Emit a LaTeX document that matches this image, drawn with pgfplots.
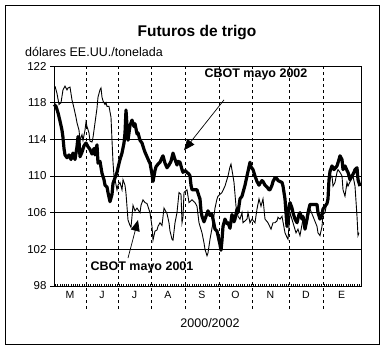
\documentclass[border=0pt]{standalone}
\usepackage{fontspec}
\setmainfont{Liberation Sans}
\usepackage{pgfplots}
\pgfplotsset{compat=1.18}
\usetikzlibrary{arrows.meta}
\begin{document}
\begin{tikzpicture}
\useasboundingbox (0pt,0pt) rectangle (386pt,354pt);
\draw[line width=1pt] (5.5pt,9.5pt) rectangle (379.5pt,348.5pt);
\begin{axis}[
  at={(54pt,68pt)}, anchor=south west, scale only axis,
  width=307pt, height=220pt,
  xmin=54, xmax=361, ymin=98, ymax=122,
  axis line style={line width=1pt},
  tick pos=left, tick align=outside,
  major tick length=4pt, minor tick length=2.2pt,
  ytick={98,102,...,122},
  ymajorgrids, major grid style={black, line width=0.9pt},
  xtick={70,102,134.5,168,202,235.5,270.5,306,341.5},
  xticklabels={M,J,J,A,S,O,N,D,E},
  major x tick style={draw=none},
  minor xtick={55.5,57.7,...,360},
  minor tick style={yshift=2.2pt, black, line width=0.6pt},
  major tick style={black, line width=0.9pt},
  yticklabel style={font=\fontsize{11.5}{13}\selectfont},
  xticklabel style={font=\fontsize{10.5}{12}\selectfont, yshift=2pt},
  /pgf/number format/assume math mode=true,
  clip=false,
]
\pgfplotsinvokeforeach{86,118,151,185,219,252,289,323}{
  \draw[black, line width=0.8pt, dash pattern=on 3pt off 3pt] (axis cs:#1,122) -- ([yshift=-25pt]axis cs:#1,98);
}
% CBOT mayo 2001 (thin)
\addplot[black, line width=0.9pt] table {
x y
55 119.8
57 119.0
59 117.8
61 118.0
63 119.4
65 119.8
67 119.4
68 119.6
70 119.7
72 118.3
74 117.4
76 116.4
77 115.8
79 115.0
80 113.9
82 114.5
83 113.9
85 115.0
86 115.9
87 115.4
89 114.7
90 113.8
92 113.7
93 114.2
95 115.8
97 117.4
98 118.6
100 119.4
101 119.6
102 118.6
103 118.2
105 117.8
106 118.0
107 117.6
109 117.6
111 116.4
112 113.9
113 111.5
114 110.0
115 109.6
117 108.5
118 109.0
120 109.3
122 108.5
123 109.6
125 109.0
126 108.1
128 105.2
130 104.6
131 104.4
133 106.8
135 106.2
137 106.5
140 106.0
141 106.8
143 107.4
145 107.1
147 107.0
150 106.0
152 104.5
153 103.0
155 104.0
157 104.1
158 104.5
160 104.9
162 104.6
164 106.5
165 106.3
167 105.9
169 104.9
170 104.0
172 103.1
173 103.0
175 104.9
177 106.0
179 108.2
181 108.0
182 104.9
183 105.5
184 108.2
187 108.5
189 107.1
192 107.4
195 107.1
197 106.7
199 104.9
202 103.8
204 102.7
205 102.0
207 101.3
208 101.6
210 103.1
213 104.9
215 106.5
217 107.5
218 107.8
220 108.0
222 108.2
225 108.9
228 110.0
230 111.0
231 111.3
233 110.0
234 109.3
236 106.7
238 105.6
240 105.3
242 106.0
243 104.9
245 105.1
247 105.3
248 106.0
250 104.9
252 105.3
255 104.9
257 106.4
259 107.5
261 106.7
263 107.5
265 105.3
268 104.9
271 104.2
273 104.9
275 104.9
277 105.1
278 105.5
280 105.3
282 105.6
285 103.8
287 103.3
288 103.1
290 106.0
293 104.9
296 103.8
298 104.2
300 103.5
303 105.3
305 104.9
307 104.9
310 106.4
313 105.6
317 104.5
318 103.8
320 103.5
322 104.5
323 105.8
325 106.0
328 107.8
329 109.3
331 110.0
332 110.0
333 108.9
335 109.3
337 110.4
338 110.7
340 110.4
342 110.0
343 108.5
345 107.8
347 109.3
348 108.9
351 109.6
353 110.0
355 108.9
357 105.6
358 103.5
359 103.8
};
% CBOT mayo 2002 (thick)
\addplot[black, line width=3.2pt, line join=round] table {
x y
54 117.8
56 117.6
58 116.9
60 116.0
62 115.0
63 114.2
64 113.0
65 112.3
67 112.0
69 112.3
71 111.8
73 112.5
75 111.8
77 113.2
78 114.3
79 113.8
80 112.1
82 112.6
84 113.3
86 113.6
88 113.2
90 112.9
92 112.4
94 113.0
95 112.3
97 113.4
98 111.4
100 111.6
102 110.3
104 109.6
105 109.0
107 108.8
108 108.2
110 107.2
112 108.0
113 109.2
115 109.8
117 110.4
118 110.9
120 111.8
122 112.5
124 113.6
125 114.7
126 117.2
127 115.5
128 113.9
130 115.5
132 116.1
134 115.4
135 115.7
137 114.6
138 114.7
140 113.9
142 113.6
144 112.9
145 112.6
147 112.1
149 111.6
150 111.4
152 110.2
153 109.4
155 110.6
156 111.0
158 111.3
160 111.5
162 112.0
163 112.2
165 111.4
167 110.9
169 111.2
171 111.6
173 112.5
175 111.8
177 111.2
178 111.6
180 111.5
182 110.7
183 110.4
185 110.6
187 110.4
189 110.2
190 110.0
191 109.0
192 108.5
195 108.5
197 108.5
199 107.8
200 107.5
201 106.2
202 105.6
204 105.0
205 105.3
207 105.9
208 106.2
210 105.7
212 105.8
213 105.3
215 104.2
217 104.0
218 103.5
220 102.5
221 101.9
222 103.0
223 104.5
225 105.3
227 104.8
228 104.9
230 104.3
232 105.8
234 105.0
235 105.3
237 106.4
238 106.0
240 107.5
242 107.8
243 108.2
245 109.0
247 110.0
249 111.0
250 111.5
251 111.0
253 110.7
255 110.0
257 109.4
259 109.0
260 109.2
262 109.5
263 109.4
265 109.0
267 108.8
269 108.5
270 108.5
272 109.0
273 109.4
275 109.8
277 109.7
278 109.5
280 109.4
282 109.3
283 108.9
285 107.5
287 104.5
288 106.0
290 107.1
292 106.5
293 106.0
295 105.3
297 104.9
299 105.8
300 106.0
302 105.3
303 105.6
305 104.2
307 105.3
308 106.0
310 106.9
313 106.9
317 106.9
318 106.0
320 105.3
322 105.8
323 106.4
325 106.7
327 107.0
328 107.5
329 109.6
330 110.5
332 111.1
334 110.7
337 111.1
339 111.8
340 112.2
342 111.8
343 110.7
345 111.1
347 110.6
348 110.4
350 109.6
352 110.0
354 110.4
355 110.7
357 110.9
358 109.6
360 108.9
};
\node[font=\bfseries\fontsize{12.5}{14}\selectfont] at (axis cs:256,121.1) {CBOT mayo 2002};
\draw[line width=0.7pt, -{Triangle[length=11pt,width=9pt]}] (axis cs:224,118.3) -- (axis cs:184,112.8);
\node[font=\bfseries\fontsize{12.5}{14}\selectfont] at (axis cs:142,100.0) {CBOT mayo 2001};
\draw[line width=0.7pt, -{Triangle[length=11pt,width=9pt]}] (axis cs:128,101.05) -- (axis cs:138,105.2);
\end{axis}
\node[font=\bfseries\fontsize{15.5}{18}\selectfont, anchor=base, inner sep=0pt] at (197pt,317.3pt) {Futuros de trigo};
\node[font=\fontsize{12.5}{15}\selectfont, anchor=base west, inner sep=0pt] at (25pt,297.3pt) {dólares EE.UU./tonelada};
\node[font=\fontsize{12.5}{15}\selectfont, anchor=base, inner sep=0pt] at (210pt,27pt) {2000/2002};
\end{tikzpicture}
\end{document}
